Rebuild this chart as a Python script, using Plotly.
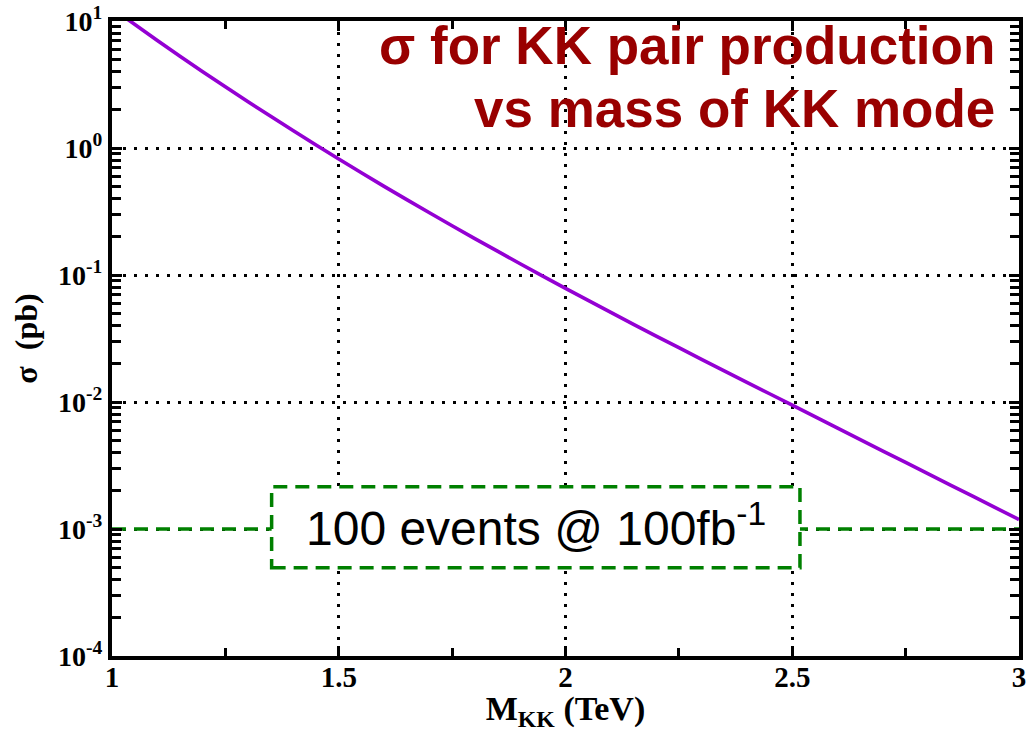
import plotly.graph_objects as go

# KK-mode mass (TeV) and pair-production cross section (pb)
mass_tev = [1.0, 1.1, 1.2, 1.3, 1.4, 1.5, 1.6, 1.7, 1.8, 1.9, 2.0,
            2.1, 2.2, 2.3, 2.4, 2.5, 2.6, 2.7, 2.8, 2.9, 3.0]
sigma_pb = [12.62, 7.015, 3.990, 2.312, 1.365, 0.8185, 0.4989, 0.3090, 0.1936, 0.1227, 0.07852,
            0.05070, 0.03304, 0.02168, 0.01429, 0.009441, 0.006223, 0.004111, 0.002716,
            0.001795, 0.001186]

# 100 events at 100 fb^-1 -> 1e-3 pb reference level
ref_x = [1.0, 3.0]
ref_sigma = [1e-3, 1e-3]
box_x = [1.352, 2.517]
box_sigma = [10 ** -3.305, 10 ** -2.667]
box_label = "100 events @ 100fb<sup>-1</sup>"

x_tickvals = [1, 1.5, 2, 2.5, 3]
x_ticktext = ["1", "1.5", "2", "2.5", "3"]
y_exponents = [1, 0, -1, -2, -3, -4]
y_tickvals = [10 ** e for e in y_exponents]
y_ticktext = ["10<sup>%d</sup>" % e for e in y_exponents]

title_lines = ["σ for KK pair production", "vs mass of KK mode"]

GREEN = "#008000"
serif_bold = dict(family="Liberation Serif", color="black", weight="bold")

fig = go.Figure()

fig.add_trace(go.Scatter(
    x=ref_x, y=ref_sigma, mode="lines",
    line=dict(color=GREEN, width=3.5, dash="14px,8px"),
    hoverinfo="skip", showlegend=False,
))

fig.add_trace(go.Scatter(
    x=mass_tev, y=sigma_pb, mode="lines",
    line=dict(color="#9400D3", width=3.6, shape="spline", smoothing=0.5),
    showlegend=False,
))

# white box around the reference label
fig.add_shape(
    type="rect", xref="x", yref="y",
    x0=box_x[0], x1=box_x[1], y0=box_sigma[0], y1=box_sigma[1],
    line=dict(color=GREEN, width=3.5, dash="14px,8px"),
    fillcolor="white", layer="above",
)

fig.add_annotation(
    x=(box_x[0] + box_x[1]) / 2, y=-2.97, xref="x", yref="y",
    text=box_label, showarrow=False, xanchor="center", yanchor="middle",
    font=dict(family="Liberation Sans", size=48, color="black"),
)

for line_text, ypos in zip(title_lines, [0.962, 0.862]):
    fig.add_annotation(
        x=0.976, y=ypos, xref="paper", yref="paper",
        text=line_text, showarrow=False, xanchor="right", yanchor="middle",
        font=dict(family="Liberation Sans", size=53, color="#990000", weight="bold"),
    )

fig.update_xaxes(
    range=[1, 3], automargin=False,
    tickmode="array", tickvals=x_tickvals, ticktext=x_ticktext,
    ticks="inside", ticklen=10, tickwidth=3, tickcolor="black",
    showline=True, linewidth=4, linecolor="black", mirror="allticks",
    showgrid=True, gridcolor="black", gridwidth=3, griddash="3px,8px",
    zeroline=False,
    minor=dict(dtick=0.25, tick0=1, ticks="inside", ticklen=8, tickwidth=3,
               tickcolor="black", showgrid=False),
    tickfont=dict(size=29, **serif_bold),
    ticklabelstandoff=-8,
    title=dict(text="M<sub>KK</sub> (TeV)", font=dict(size=34, **serif_bold), standoff=2),
)

fig.update_yaxes(
    type="log", range=[-4, 1], automargin=False,
    tickmode="array", tickvals=y_tickvals, ticktext=y_ticktext,
    ticks="inside", ticklen=10, tickwidth=3, tickcolor="black",
    showline=True, linewidth=4, linecolor="black", mirror="allticks",
    showgrid=True, gridcolor="black", gridwidth=3, griddash="3px,8px",
    zeroline=False,
    minor=dict(dtick="D1", ticks="inside", ticklen=9, tickwidth=3,
               tickcolor="black", showgrid=False),
    tickfont=dict(size=28, **serif_bold),
    title=dict(text="σ  (pb)", font=dict(size=32, **serif_bold), standoff=12),
)

fig.update_layout(
    width=1032, height=732,
    margin=dict(l=112, r=13, t=21, b=76),
    paper_bgcolor="white", plot_bgcolor="white",
    showlegend=False,
)

fig.write_html("out.html")
